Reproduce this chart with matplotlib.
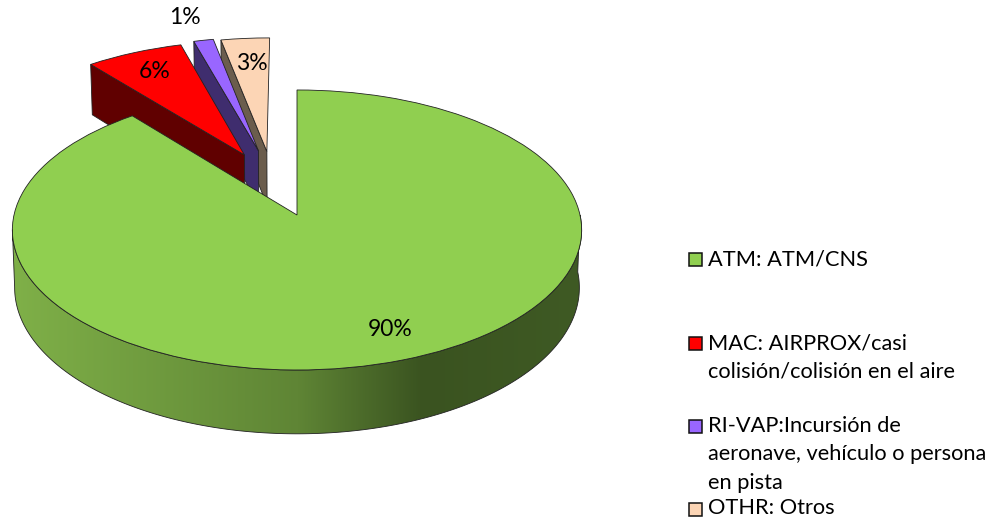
import numpy as np
import matplotlib
matplotlib.use("Agg")
import matplotlib.pyplot as plt
from matplotlib.transforms import Transform
from matplotlib.patches import Polygon, Rectangle
from matplotlib.colors import LinearSegmentedColormap

# ---- data ----
categories = ["ATM: ATM/CNS",
              "MAC: AIRPROX/casi\ncolisión/colisión en el aire",
              "RI-VAP:Incursión de\naeronave, vehículo o persona\nen pista",
              "OTHR: Otros"]
values = [89.5, 6.4, 1.3, 3.2]
value_labels = ["90%", "6%", "1%", "3%"]

# ---- style ----
plt.rcParams['font.family'] = ['Lato', 'DejaVu Sans']
top_colors = ['#90cf50', '#ff0000', '#9966ff', '#fcd5b5']
wall_colors = ['#5f8535', '#600000', '#3f2d6e', '#6b5d4d']
edge = '#222222'
explode = [0, 0.50, 0.50, 0.50]
nudge = [(0, 0), (0.037, 0.012), (-0.024, 0.003), (-0.062, -0.015)]
label_xy = [(390, 329), (155, 72), (185, 18), (252, 63)]
legend_y = [259, 343, 426, 509]
legend_line_y = [[259], [343, 371], [426, 454, 483], [508]]

# ---- camera ----
CX, CY, AX, AY, K, DEPTH, SHRINK = 297.0, 215.0, 283.0, 138.4, 0.107, 57.0, 0.992


class Perspective(Transform):
    input_dims = output_dims = 2
    is_separable = False
    has_inverse = False

    def transform_non_affine(self, xy):
        xy = np.asarray(xy, float)
        w = 1 + K * xy[:, 1]
        return np.column_stack([CX + AX * xy[:, 0] / w, CY - AY * xy[:, 1] / w])


proj = Perspective()


def arc_points(w, t1, t2, n=200):
    t = np.radians(np.linspace(t1, t2, n))
    cx, cy = w.center
    return np.column_stack([cx + w.r * np.cos(t), cy + w.r * np.sin(t)])


def extruded(pts):
    """screen polygon of a top-face polyline pushed down by the slab depth"""
    scr = proj.transform(pts)
    dep = DEPTH / (1 + K * pts[:, 1])
    low = np.column_stack([CX + (scr[:, 0] - CX) * SHRINK, scr[:, 1] + dep])
    return np.vstack([scr, low[::-1]])


fig = plt.figure(figsize=(10, 5.23), dpi=100)
ax = fig.add_axes([0, 0, 1, 1])
wedges, _ = ax.pie(values, explode=explode, startangle=90, counterclock=False, colors=top_colors)
ax.set_aspect('auto')
ax.set_xlim(0, 1000)
ax.set_ylim(523, 0)
ax.axis('off')

for i, w in enumerate(wedges):
    cx, cy = w.center
    w.set_center((cx + nudge[i][0], cy + nudge[i][1]))
    w.set_transform(proj + ax.transData)
    w.set_edgecolor(edge)
    w.set_linewidth(0.6)

# back-to-front painter order
z = 2
for i in [3, 2, 1]:
    w = wedges[i]
    # the radial edge at the slice's counter-clockwise side faces the viewer
    corner = arc_points(w, w.theta2, w.theta2, 1)
    tip = np.array([w.center])
    t = np.linspace(0, 1, 2)[:, None]
    edge_pts = corner + (tip - corner) * t
    ax.add_patch(Polygon(extruded(edge_pts), closed=True, facecolor=wall_colors[i],
                         edgecolor=edge, linewidth=0.6, zorder=z))
    w.set_zorder(z + 1)
    z += 2

# big slice: outer wall with a horizontal shade
w = wedges[0]
vis = arc_points(w, 186, 360, 300)   # front part of the rim
poly = Polygon(extruded(vis), closed=True, facecolor='none', edgecolor=edge, linewidth=0.6, zorder=z + 1)
ax.add_patch(poly)
shade = LinearSegmentedColormap.from_list('shade', [(0.0, '#7fb048'), (0.5, '#5f8535'),
                                                     (0.72, '#3a5320'), (1.0, '#3f5a24')])
im = ax.imshow(np.linspace(0, 1, 256)[None, :], cmap=shade, extent=(13, 583, 440, 220),
               aspect='auto', zorder=z)
clip = Polygon(extruded(vis), closed=True, transform=ax.transData)
im.set_clip_path(clip)
ax.set_xlim(0, 1000)
ax.set_ylim(523, 0)
w.set_zorder(z + 2)

# percentage labels
for (x, y), s in zip(label_xy, value_labels):
    ax.text(x, y, s, ha='center', va='center', fontsize=16.5, color='black', zorder=20)

# legend
for name, c, sy, ly in zip(categories, top_colors, legend_y, legend_line_y):
    ax.add_patch(Rectangle((689, sy - 6.5), 13, 13, facecolor=c, edgecolor='#111111',
                           linewidth=1.1, zorder=20))
    for line, y in zip(name.split("\n"), ly):
        ax.text(708, y, line, ha='left', va='center', fontsize=15.7, color='black', zorder=20)

fig.savefig('out.png', dpi=100)
